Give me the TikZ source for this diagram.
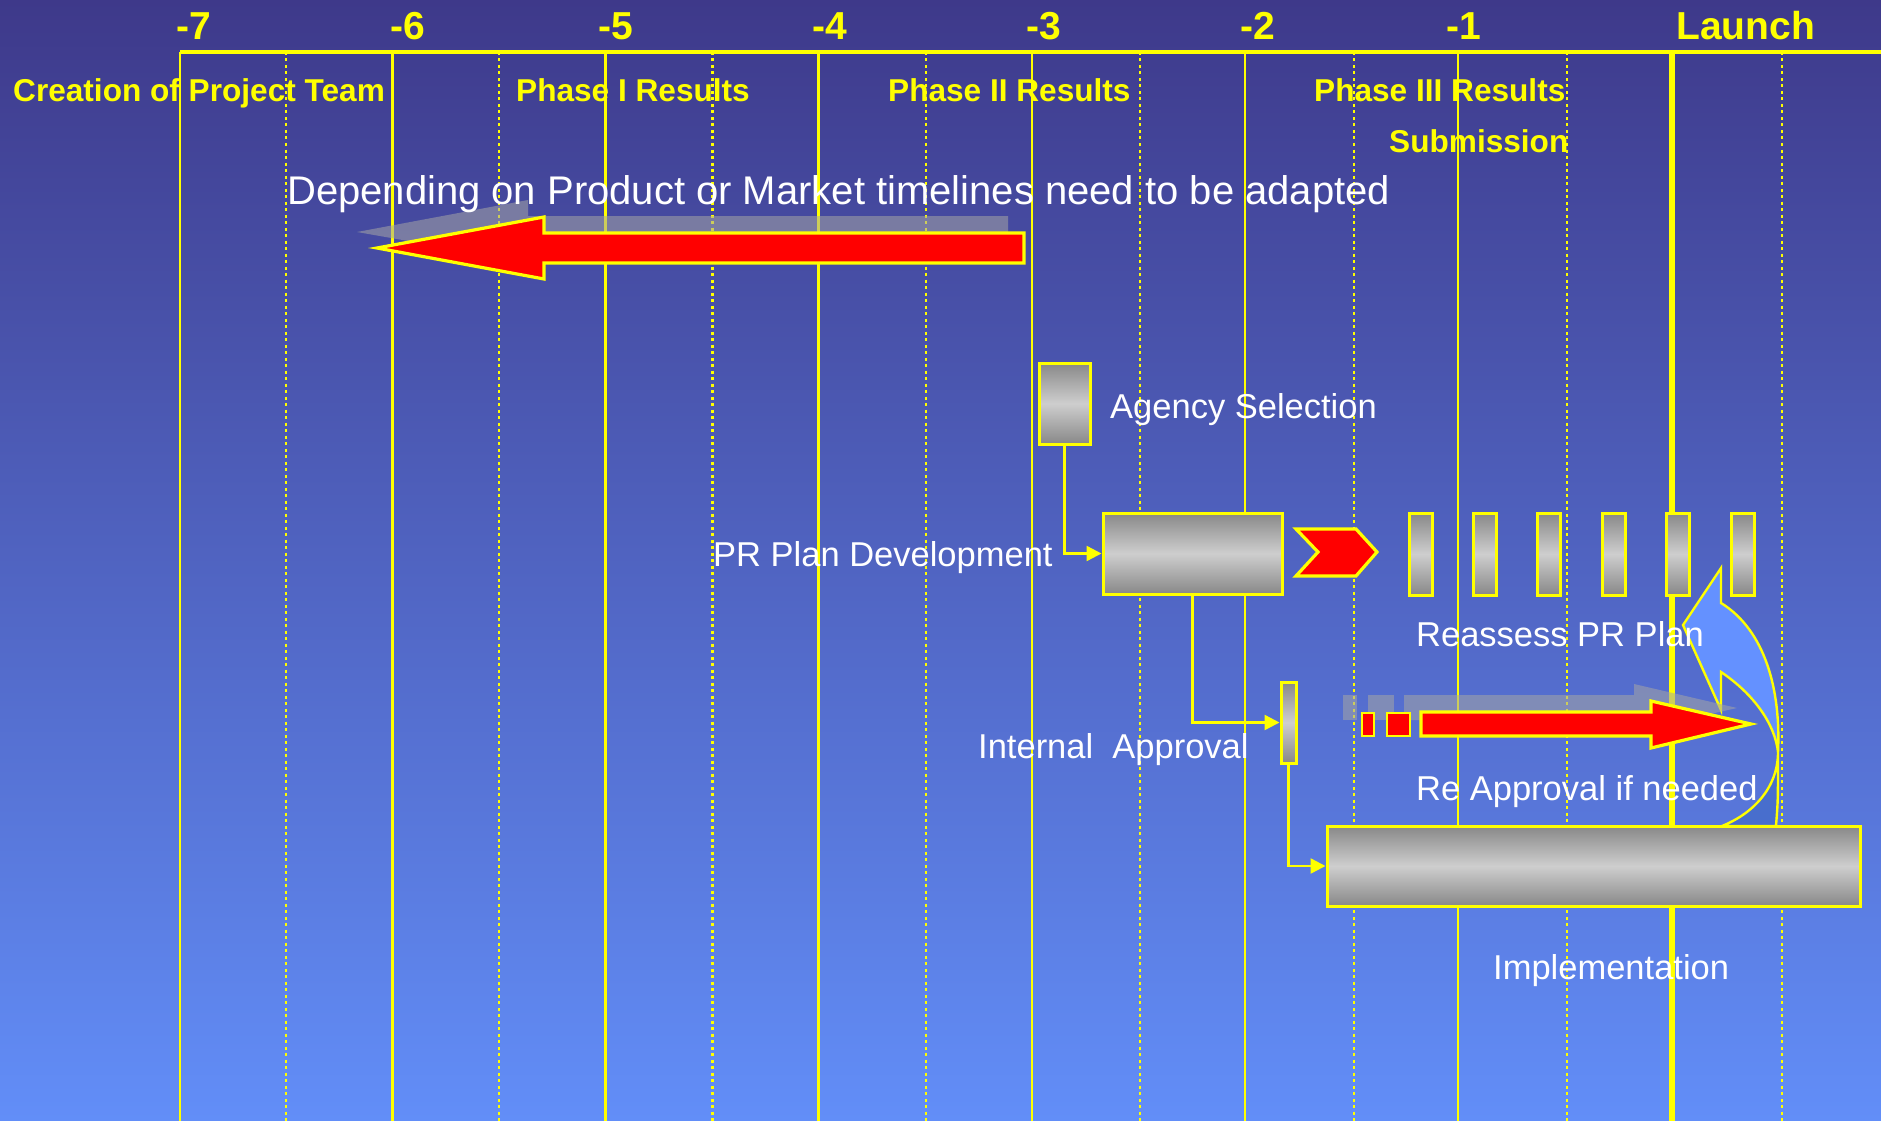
\documentclass[tikz,border=0pt]{standalone}
\usepackage{fontspec}
\setmainfont{Liberation Sans}
\usetikzlibrary{arrows.meta}
\definecolor{bgtop}{RGB}{62,57,138}
\definecolor{bgbot}{RGB}{98,142,248}
\definecolor{yel}{RGB}{255,255,0}
\definecolor{redf}{RGB}{255,0,0}
\definecolor{blight}{RGB}{100,145,255}
\definecolor{bdark}{RGB}{72,110,205}
\definecolor{shad}{RGB}{165,165,165}
\definecolor{gdark}{RGB}{136,136,136}
\definecolor{glight}{RGB}{206,206,206}
\begin{document}
\begin{tikzpicture}[x=1pt,y=-1pt,
  solidline/.style={draw=yel,line width=2.6},
  dotline/.style={draw=yel,line width=2.6,dash pattern=on 3pt off 3.5pt},
  gbox/.style={draw=yel,line width=3,inner sep=0,top color=gdark,bottom color=gdark,middle color=glight},
  redshape/.style={draw=yel,fill=redf,line width=3.2,line join=miter},
  shadowshape/.style={fill=shad,fill opacity=0.55},
  conn/.style={draw=yel,line width=2.4,-{Triangle[length=15pt,width=15pt]}},
  ylab/.style={text=yel,inner sep=0,anchor=base west,font=\bfseries\fontsize{31.6}{36}\selectfont},
  ynum/.style={text=yel,inner sep=0,anchor=base west,font=\bfseries\fontsize{39}{44}\selectfont},
  wlab/.style={text=white,inner sep=0,anchor=base west,font=\fontsize{34.5}{40}\selectfont}
]
\useasboundingbox (0,0) rectangle (1881,1121);
\shade[top color=bgtop,bottom color=bgbot] (0,0) rectangle (1881,1121);

% grid
\foreach \x in {180,392.5,605.5,818.5,1032,1245,1458}
  \draw[solidline] (\x,52) -- (\x,1121);
\foreach \x in {286,499,712.5,926,1140,1354,1567,1782}
  \draw[dotline] (\x,52) -- (\x,1121);
\draw[draw=yel,line width=6] (1672,52) -- (1672,1121);
\draw[draw=yel,line width=3.2] (180,52) -- (1881,52);

% header numbers
\node[ynum] (n7) at (176,40) {-7};
\node[ynum] (n6) at (390,40) {-6};
\node[ynum] (n5) at (598,40) {-5};
\node[ynum] (n4) at (812,40) {-4};
\node[ynum] (n3) at (1026,40) {-3};
\node[ynum] (n2) at (1240,40) {-2};
\node[ynum] (n1) at (1446,40) {-1};
\node[ynum] (nl) at (1676,40) {Launch};

% milestone labels
\node[ylab] (team) at (13,102) {Creation of Project Team};
\node[ylab] (ph1) at (516,102) {Phase I Results};
\node[ylab] (ph2) at (888,102) {Phase II Results};
\node[ylab] (ph3) at (1314,102) {Phase III Results};
\node[ylab] (subm) at (1389,153) {Submission};

% left arrow with shadow
\fill[shadowshape] (357,232) -- (528,200) -- (528,216) -- (1008,216) -- (1008,248) -- (528,248) -- (528,262) -- cycle;
\draw[redshape] (377,248) -- (544,217) -- (544,233) -- (1024,233) -- (1024,263) -- (544,263) -- (544,279) -- cycle;
\node[text=white,inner sep=0,anchor=base west,font=\fontsize{40}{46}\selectfont] (adapt) at (287,204) {Depending on Product or Market timelines need to be adapted};

% curved blue arrow
\draw[draw=yel,fill=bdark,line width=2.4] (1778,752) .. controls (1778,790) and (1750,815) .. (1722,826) -- (1776,826) .. controls (1778,800) .. (1778,752) -- cycle;
\draw[draw=yel,fill=blight,line width=2.4,line join=miter] (1721,568) -- (1683,625) -- (1721,710) -- (1721,672) .. controls (1755,695) and (1775,725) .. (1778,752) .. controls (1781,690) and (1765,630) .. (1721,603) -- cycle;

% right arrow with shadow
\fill[shadowshape] (1343,695) rectangle (1357,720);
\fill[shadowshape] (1368,695) rectangle (1394,720);
\fill[shadowshape] (1404,695) -- (1634,695) -- (1634,684) -- (1737,708) -- (1634,731) -- (1634,720) -- (1404,720) -- cycle;
\draw[redshape,line width=2.4] (1362,713) rectangle (1374,736);
\draw[redshape,line width=2.4] (1387,713) rectangle (1410,736);
\draw[redshape] (1421,712) -- (1651,712) -- (1651,701) -- (1751,724) -- (1651,748) -- (1651,736) -- (1421,736) -- cycle;

% chevron
\draw[redshape] (1296,529) -- (1356,529) -- (1377,552) -- (1356,576) -- (1296,576) -- (1318,552) -- cycle;

% boxes
\node[gbox,minimum width=51pt,minimum height=81pt] (agency) at (1064.5,403.5) {};
\node[gbox,minimum width=179pt,minimum height=81pt] (prplan) at (1192.5,553.5) {};
\foreach \i/\x in {1/1420.5,2/1484.9,3/1549.3,4/1613.7,5/1678.1,6/1742.5}
  \node[gbox,minimum width=23pt,minimum height=82pt] (rb\i) at (\x,554) {};
\node[gbox,minimum width=15pt,minimum height=81pt] (internal) at (1288.5,722.5) {};
\node[gbox,minimum width=533pt,minimum height=80pt] (impl) at (1593.5,866) {};

% connectors
\draw[conn] (agency.south) |- (prplan.west);
\draw[conn] (prplan.south) |- (internal.west);
\draw[conn] (internal.south) |- (impl.west);

% activity labels
\node[wlab] (tagency) at (1110,418) {Agency Selection};
\node[wlab] (tpr) at (713,566) {PR Plan Development};
\node[wlab] (treass) at (1416,646) {Reassess PR Plan};
\node[wlab] (tint) at (978,758) {Internal\ \ Approval};
\node[wlab] (treapp) at (1416,800) {Re Approval if needed};
\node[wlab] (timpl) at (1493,979) {Implementation};
\end{tikzpicture}
\end{document}
